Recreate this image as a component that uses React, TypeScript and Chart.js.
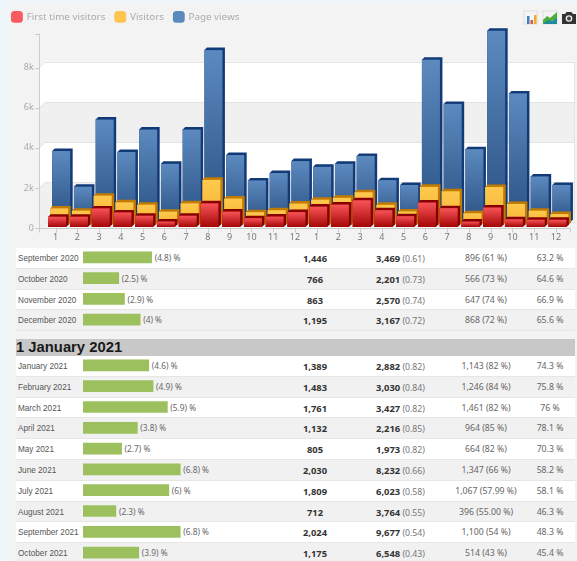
import React, { useEffect, useRef } from "react";
import { Chart, registerables, BarController, BarElement } from "chart.js";

const monthLabels = ["1","2","3","4","5","6","7","8","9","10","11","12","1","2","3","4","5","6","7","8","9","10","11","12"];
const firstTimeVisitors = [640,640,1055,855,690,400,690,1306,896,566,647,868,1143,1246,1461,964,664,1347,1067,396,1100,514,490,490];
const visitors = [955,840,1590,1256,1140,790,1206,2380,1446,766,863,1195,1389,1483,1761,1132,805,2030,1809,712,2024,1175,840,670];
const pageViews = [3670,1890,5240,3620,4740,3030,4740,8710,3469,2201,2570,3167,2882,3030,3427,2216,1973,8232,6023,3764,9677,6548,2400,1975];

const rows2020Names = ["September 2020","October 2020","November 2020","December 2020"];
const rows2020Share = [4.8,2.5,2.9,4];
const rows2020Visits = ["1,446","766","863","1,195"];
const rows2020Views = ["3,469","2,201","2,570","3,167"];
const rows2020Ratio = ["0.61","0.73","0.74","0.72"];
const rows2020Return = ["896 (61 %)","566 (73 %)","647 (74 %)","868 (72 %)"];
const rows2020Last = ["63.2 %","64.6 %","66.9 %","65.6 %"];

const heading2021 = "1 January 2021";
const rows2021Names = ["January 2021","February 2021","March 2021","April 2021","May 2021","June 2021","July 2021","August 2021","September 2021","October 2021"];
const rows2021Share = [4.6,4.9,5.9,3.8,2.7,6.8,6,2.3,6.8,3.9];
const rows2021Visits = ["1,389","1,483","1,761","1,132","805","2,030","1,809","712","2,024","1,175"];
const rows2021Views = ["2,882","3,030","3,427","2,216","1,973","8,232","6,023","3,764","9,677","6,548"];
const rows2021Ratio = ["0.82","0.84","0.82","0.85","0.82","0.66","0.58","0.55","0.54","0.43"];
const rows2021Return = ["1,143 (82 %)","1,246 (84 %)","1,461 (82 %)","964 (85 %)","664 (82 %)","1,347 (66 %)","1,067 (57.99 %)","396 (55.00 %)","1,100 (54 %)","514 (43 %)"];
const rows2021Last = ["74.3 %","75.8 %","76 %","78.1 %","70.3 %","58.2 %","58.1 %","46.3 %","48.3 %","45.4 %"];

const FONT = '"Noto Sans", sans-serif';
const ROW_H = 20.8;
const SHARE_MAX = 10;
const SHARE_W = 143;
const AXIS_TOP = 9700;

class Bar3D extends BarElement {
  static id = "bar3d";
  draw(ctx: CanvasRenderingContext2D) {
    const { x, y, base, width } = (this as any).getProps(["x", "y", "base", "width"]);
    const o = (this as any).options;
    const shiftX = o.shiftX, shiftY = o.shiftY, d = 2.5;
    const l = x - width / 2 + shiftX, r = x + width / 2 + shiftX;
    const t = y - shiftY + d, b = base - shiftY;
    ctx.save();
    ctx.fillStyle = o.sideColor;
    ctx.beginPath();
    ctx.moveTo(l, t);
    ctx.lineTo(l + d, t - d);
    ctx.lineTo(r + d, t - d);
    ctx.lineTo(r + d, b - d);
    ctx.lineTo(r, b);
    ctx.lineTo(l, b);
    ctx.closePath();
    ctx.fill();
    const g = ctx.createLinearGradient(0, t, 0, b);
    g.addColorStop(0, o.topColor);
    g.addColorStop(1, o.bottomColor);
    ctx.fillStyle = g;
    ctx.fillRect(l, t, r - l, b - t);
    ctx.restore();
  }
}
(Bar3D as any).defaults = { ...(BarElement as any).defaults, shiftX: 0, shiftY: 0, sideColor: "#000", topColor: "#888", bottomColor: "#444" };

class Bar3DController extends BarController {
  static id = "bar3d";
  static defaults = { ...(BarController as any).defaults, dataElementType: "bar3d" };
  static overrides = (BarController as any).overrides;
}

Chart.register(...registerables, Bar3D as any, Bar3DController as any);

const DEPTH = 6;
const wallPlugin = {
  id: "wall",
  beforeDatasetsDraw(chart: any) {
    const { ctx, scales: { x, y } } = chart;
    const axisX = 39, wallX = 45, rightX = 575;
    const bands = [[0, 2000, "#f0f0f0"], [2000, 4000, "#ffffff"], [4000, 6000, "#f0f0f0"], [6000, 8000, "#ffffff"]] as const;
    ctx.save();
    bands.forEach(([a, b, c]) => {
      const ya = y.getPixelForValue(a), yb = y.getPixelForValue(b);
      ctx.fillStyle = c;
      ctx.beginPath();
      ctx.moveTo(axisX, ya);
      ctx.lineTo(wallX, ya - DEPTH);
      ctx.lineTo(wallX, yb - DEPTH);
      ctx.lineTo(rightX, yb - DEPTH);
      ctx.lineTo(rightX, ya - DEPTH);
      ctx.lineTo(wallX, ya - DEPTH);
      ctx.closePath();
      ctx.fill();
      ctx.beginPath();
      ctx.moveTo(axisX, ya);
      ctx.lineTo(axisX, yb);
      ctx.lineTo(wallX, yb - DEPTH);
      ctx.lineTo(wallX, ya - DEPTH);
      ctx.closePath();
      ctx.fill();
    });
    ctx.strokeStyle = "#e4e4e4";
    ctx.lineWidth = 1;
    [0, 2000, 4000, 6000, 8000].forEach((v) => {
      const py = Math.round(y.getPixelForValue(v)) + 0.5;
      ctx.beginPath();
      ctx.moveTo(axisX, py);
      ctx.lineTo(wallX, py - DEPTH);
      ctx.lineTo(rightX, py - DEPTH);
      ctx.stroke();
    });
    ctx.beginPath();
    ctx.moveTo(rightX - 0.5, y.getPixelForValue(0) - DEPTH);
    ctx.lineTo(rightX - 0.5, y.getPixelForValue(8000) - DEPTH);
    ctx.stroke();
    ctx.strokeStyle = "#cccccc";
    const y0 = Math.round(y.getPixelForValue(0)) + 0.5;
    ctx.beginPath();
    ctx.moveTo(axisX + 0.5, y.getPixelForValue(AXIS_TOP));
    ctx.lineTo(axisX + 0.5, y0 + 4);
    ctx.moveTo(axisX - 4, y0);
    ctx.lineTo(570.5, y0);
    ctx.lineTo(570.5, y0 + 4);
    [0, 2000, 4000, 6000, 8000, AXIS_TOP].forEach((v) => {
      const py = Math.round(y.getPixelForValue(v)) + 0.5;
      ctx.moveTo(axisX - 4, py);
      ctx.lineTo(axisX, py);
    });
    monthLabels.forEach((_, i) => {
      const px = Math.round(x.getPixelForValue(i)) + 0.5;
      ctx.moveTo(px, y0);
      ctx.lineTo(px, y0 + 4);
    });
    ctx.stroke();
    ctx.restore();
  },
};

function MainChart() {
  const ref = useRef<HTMLCanvasElement>(null);
  useEffect(() => {
    const chart = new Chart(ref.current!, {
      type: "bar3d" as any,
      plugins: [wallPlugin],
      data: {
        labels: monthLabels,
        datasets: [
          { label: "First time visitors", data: firstTimeVisitors, backgroundColor: "#f75a5f", borderColor: "#f75a5f", barThickness: 18, grouped: false, clip: false,
            shiftX: 1.5, shiftY: 1, sideColor: "#8a0000", topColor: "#f85458", bottomColor: "#a50606" } as any,
          { label: "Visitors", data: visitors, backgroundColor: "#fdc44f", borderColor: "#fdc44f", barThickness: 18, grouped: false, clip: false,
            shiftX: 3.5, shiftY: 3, sideColor: "#c27a00", topColor: "#fec94f", bottomColor: "#f6b12e" } as any,
          { label: "Page views", data: pageViews, backgroundColor: "#5b88bd", borderColor: "#5b88bd", barThickness: 18, grouped: false, clip: false,
            shiftX: 5.5, shiftY: 6, sideColor: "#123a78", topColor: "#5c8abf", bottomColor: "#2a5184" } as any,
        ],
      },
      options: {
        animation: false,
        responsive: false,
        events: [],
        layout: { padding: { right: 10.2, left: 2, top: 2, bottom: 0 } },
        plugins: {
          tooltip: { enabled: false },
          legend: {
            position: "top",
            align: "start",
            labels: { boxWidth: 11, boxHeight: 11, padding: 10, color: "#aaaaaa", usePointStyle: true, pointStyle: "rectRounded", font: { family: FONT, size: 9.8 } },
          },
        },
        scales: {
          x: {
            grid: { display: false, drawTicks: false },
            border: { display: false },
            afterFit: (s: any) => { s.height = 17; },
            ticks: { color: "#777777", font: { family: FONT, size: 9 }, padding: 4, maxRotation: 0, autoSkip: false },
          },
          y: {
            min: 0,
            max: 9800,
            grid: { display: false, drawTicks: false },
            border: { display: false },
            afterFit: (s: any) => { s.width = 42.8; },
            afterBuildTicks: (s: any) => { s.ticks = [0, 2000, 4000, 6000, 8000].map((value) => ({ value })); },
            ticks: {
              color: "#aaaaaa",
              font: { family: FONT, size: 9 },
              padding: 11,
              callback: (v: any) => (v === 0 ? "0" : v / 1000 + "k"),
            },
          },
        },
      } as any,
    });
    return () => chart.destroy();
  }, []);
  return <canvas ref={ref} width={577} height={245} style={{ position: "absolute", left: 0, top: 0, width: 577, height: 245 }} />;
}

function ShareBars({ names, values, top }: { names: string[]; values: number[]; top: number }) {
  const ref = useRef<HTMLCanvasElement>(null);
  useEffect(() => {
    const chart = new Chart(ref.current!, {
      type: "bar",
      data: {
        labels: names,
        datasets: [{ data: values, backgroundColor: "#9dc05f", borderWidth: 0, barThickness: 11 }],
      },
      options: {
        indexAxis: "y",
        animation: false,
        responsive: false,
        events: [],
        plugins: { legend: { display: false }, tooltip: { enabled: false } },
        scales: { x: { display: false, min: 0, max: SHARE_MAX }, y: { display: false } },
      },
    });
    return () => chart.destroy();
  }, []);
  const h = Math.round(names.length * ROW_H);
  return <canvas ref={ref} width={SHARE_W} height={h} style={{ position: "absolute", left: 83, top: top - 1, width: SHARE_W, height: h }} />;
}

const cell = (center: number, w: number): React.CSSProperties => ({
  position: "absolute", left: center - w / 2, width: w, top: 1, textAlign: "center", lineHeight: `${ROW_H - 1}px`, whiteSpace: "nowrap",
});

function Rows(p: { top: number; names: string[]; share: number[]; visits: string[]; views: string[]; ratio: string[]; ret: string[]; last: string[] }) {
  const bold: React.CSSProperties = { fontWeight: 700, color: "#333", fontSize: 9.4 };
  return (
    <>
      {p.names.map((n, i) => (
        <div key={n} style={{
          position: "absolute", left: 16, width: 559, top: p.top + i * ROW_H, height: ROW_H - 1,
          background: i % 2 === 0 ? "#ffffff" : "#f1f1f1", borderBottom: "1px solid #e6e6e6",
          fontFamily: FONT, fontSize: 8.7, color: "#555555",
        }}>
          <span style={{ position: "absolute", left: 2, top: 1, lineHeight: `${ROW_H - 1}px`, whiteSpace: "nowrap", fontFamily: '"Liberation Sans", sans-serif', fontSize: 8.2 }}>{n}</span>
          <span style={{ position: "absolute", left: 67 + (p.share[i] / SHARE_MAX) * SHARE_W + 3, top: 0, lineHeight: `${ROW_H - 1}px`, whiteSpace: "nowrap", color: "#666", fontSize: 8.3 }}>({p.share[i]}) %</span>
          <span style={{ ...cell(299, 60), ...bold }}>{p.visits[i]}</span>
          <span style={{ ...cell(384.5, 90) }}><b style={bold}>{p.views[i]}</b> <span style={{ color: "#777" }}>({p.ratio[i]})</span></span>
          <span style={{ ...cell(470, 90), color: "#666" }}>{p.ret[i]}</span>
          <span style={{ ...cell(534, 50), color: "#666" }}>{p.last[i]}</span>
        </div>
      ))}
    </>
  );
}

function Icons() {
  return (
    <svg width={56} height={16} viewBox="0 0 56 16" style={{ position: "absolute", left: 521, top: 10 }}>
      <rect x={3} y={1} width={13} height={13} fill="#f4f4f4" stroke="#dddddd" />
      <rect x={6} y={6} width={2.5} height={8} fill="#3d7fc0" />
      <rect x={9.5} y={10} width={2.5} height={4} fill="#e05a3a" />
      <rect x={13} y={5} width={2.5} height={9} fill="#eeaa33" />
      <rect x={22} y={1} width={14} height={13} fill="#f4f4f4" stroke="#dddddd" />
      <polygon points="22,10 26,6 29,8 36,2 36,9 22,14" fill="#4caf3a" />
      <polygon points="22,14 27,10 31,11 36,8 36,14" fill="#1f8a9e" />
      <path d="M41 4h3l1.5-2h5L52 4h3v10H41z" fill="#333333" />
      <circle cx={48} cy={8.5} r={3.3} fill="#eeeeee" />
      <circle cx={48} cy={8.5} r={2} fill="#444444" />
    </svg>
  );
}

export default function App() {
  return (
    <div style={{ position: "fixed", left: 0, top: 0, width: 577, height: 561, overflow: "hidden", background: "#eef6fa" }}>
      <div style={{ position: "absolute", left: 10, top: 3, width: 567, height: 558, background: "#f3f3f3" }} />
      <MainChart />
      <Icons />
      <Rows top={248} names={rows2020Names} share={rows2020Share} visits={rows2020Visits} views={rows2020Views} ratio={rows2020Ratio} ret={rows2020Return} last={rows2020Last} />
      <div style={{ position: "absolute", left: 16, width: 559, top: 339, height: 17, background: "#c8c8c8", fontFamily: '"Liberation Sans", Arial, sans-serif', fontWeight: 700, fontSize: 14.8, lineHeight: "17px", color: "#1a1a1a" }}>{heading2021}</div>
      <Rows top={356} names={rows2021Names} share={rows2021Share} visits={rows2021Visits} views={rows2021Views} ratio={rows2021Ratio} ret={rows2021Return} last={rows2021Last} />
      <ShareBars names={rows2020Names} values={rows2020Share} top={248} />
      <ShareBars names={rows2021Names} values={rows2021Share} top={356} />
    </div>
  );
}
